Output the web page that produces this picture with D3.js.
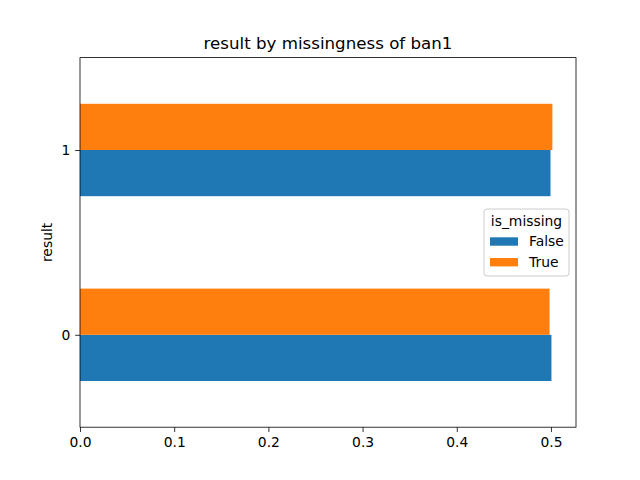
<!DOCTYPE html>
<html><head><meta charset="utf-8">
<script src="https://cdn.jsdelivr.net/npm/d3@7"></script>
<style>body{margin:0;background:#fff}text{font-family:"DejaVu Sans",sans-serif}</style>
</head><body>
<svg id="c" width="640" height="480"></svg>
<script>
const categories = ["0", "1"];
const seriesNames = ["False", "True"];
const falseValues = [0.5005, 0.4995];
const trueValues = [0.4985, 0.5015];
const xTicks = [0.0, 0.1, 0.2, 0.3, 0.4, 0.5];
const colors = ["#1f77b4", "#ff7f0e"];
const titleText = "result by missingness of ban1";
const yLabel = "result";
const legendTitle = "is_missing";

const svg = d3.select("#c");
const L = 80, R = 576, T = 57.6, B = 427.2;
const maxV = d3.max(falseValues.concat(trueValues));
const x = d3.scaleLinear().domain([0, maxV * 1.05]).range([L, R]);
const y = d3.scaleLinear().domain([-0.5, 1.5]).range([B, T]);
const fs = 13.89;

const series = [falseValues, trueValues];
series.forEach((vals, si) => {
  svg.append("g").selectAll("rect").data(vals).join("rect")
    .attr("x", x(0))
    .attr("y", (d, i) => si === 0 ? y(i) : y(i + 0.25))
    .attr("width", d => x(d) - x(0))
    .attr("height", y(0) - y(0.25))
    .attr("fill", colors[si]);
});

// axes
const xa = svg.append("g").attr("transform", `translate(0,${B})`)
  .call(d3.axisBottom(x).tickValues(xTicks).tickFormat(d3.format(".1f")).tickSizeOuter(0).tickSize(4.86).tickPadding(4.86));
const ya = svg.append("g").attr("transform", `translate(${L},0)`)
  .call(d3.axisLeft(y).tickValues(categories.map(Number)).tickFormat((d, i) => categories[i]).tickSizeOuter(0).tickSize(4.86).tickPadding(4.86));
[xa, ya].forEach(g => {
  g.select(".domain").remove();
  g.selectAll("line").attr("stroke", "#000").attr("stroke-width", 0.8);
  g.selectAll("text").attr("font-size", fs).attr("fill", "#000").attr("font-family", "DejaVu Sans");
});

svg.append("rect").attr("x", L).attr("y", T).attr("width", R - L).attr("height", B - T)
  .attr("fill", "none").attr("stroke", "#000").attr("stroke-width", 0.8);

svg.append("text").attr("x", (L + R) / 2).attr("y", T - 8.3).attr("text-anchor", "middle")
  .attr("font-size", 16.67).text(titleText);
svg.append("text").attr("transform", `translate(${52},${(T + B) / 2}) rotate(-90)`)
  .attr("text-anchor", "middle").attr("font-size", fs).text(yLabel);

// legend
const lg = svg.append("g");
lg.append("rect").attr("x", 484).attr("y", 209).attr("width", 85).attr("height", 67)
  .attr("rx", 3).attr("fill", "#fff").attr("fill-opacity", 0.8).attr("stroke", "#cccccc").attr("stroke-width", 1);
lg.append("text").attr("x", 526.5).attr("y", 225.5).attr("text-anchor", "middle").attr("font-size", fs).text(legendTitle);
seriesNames.forEach((n, i) => {
  const yy = 237.3 + i * 20.7;
  lg.append("rect").attr("x", 490).attr("y", yy).attr("width", 28).attr("height", 8.4).attr("fill", colors[i]);
  lg.append("text").attr("x", 529).attr("y", yy + 8.5).attr("font-size", fs).text(n);
});
</script>
</body></html>
